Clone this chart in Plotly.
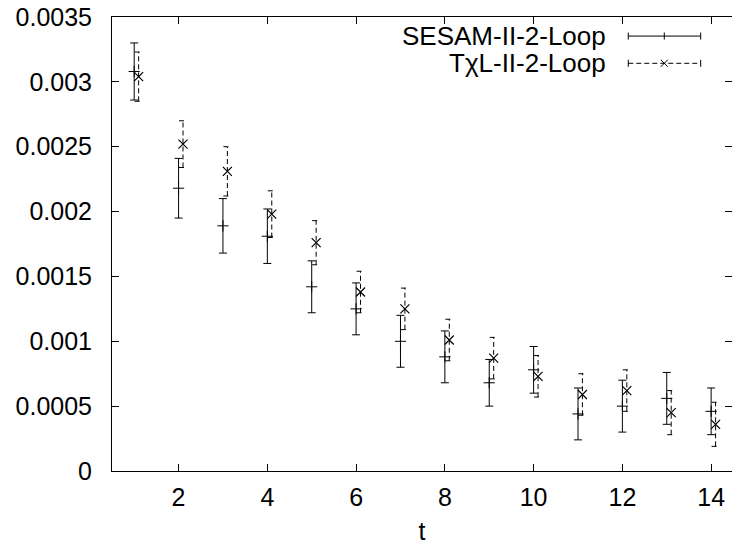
import plotly.graph_objects as go

# Time slices
t = [1, 2, 3, 4, 5, 6, 7, 8, 9, 10, 11, 12, 13, 14]

# SESAM ensemble, 2-loop
sesam_val = [0.00308, 0.00218, 0.00189, 0.00181, 0.00142, 0.00125, 0.00100,
             0.00088, 0.00068, 0.00078, 0.00044, 0.00050, 0.00056, 0.00046]
sesam_err = [0.00022, 0.00023, 0.00021, 0.00021, 0.00020, 0.00020, 0.00020,
             0.00020, 0.00018, 0.00018, 0.00020, 0.00020, 0.00020, 0.00018]

# TchiL ensemble, 2-loop (plotted slightly shifted in t)
tchil_val = [0.00304, 0.00252, 0.00231, 0.00198, 0.00176, 0.00138, 0.00125,
             0.00101, 0.00087, 0.00073, 0.00059, 0.00062, 0.00045, 0.00036]
tchil_err = [0.00019, 0.00018, 0.00019, 0.00018, 0.00017, 0.00016, 0.00016,
             0.00016, 0.00016, 0.00016, 0.00016, 0.00016, 0.00017, 0.00017]
tchil_shift = 0.1

x_ticks = [2, 4, 6, 8, 10, 12, 14]
y_ticks = [0, 0.0005, 0.001, 0.0015, 0.002, 0.0025, 0.003, 0.0035]
y_tick_text = ["0", "0.0005", "0.001", "0.0015", "0.002", "0.0025", "0.003", "0.0035"]

labels = ["SESAM-II-2-Loop", "T\u03c7L-II-2-Loop"]

FONT = "Liberation Sans, Arial, Helvetica, sans-serif"
FS = 25
CAP = 0.09  # half-width of dashed error-bar caps, in t units

fig = go.Figure()

# SESAM: solid error bars with "+" points
fig.add_trace(go.Scatter(
    x=t, y=sesam_val, mode="markers",
    marker=dict(symbol="cross-thin", size=8, line=dict(color="black", width=1)),
    error_y=dict(type="data", array=sesam_err, visible=True,
                 color="black", thickness=1, width=4),
    showlegend=False,
))

# TchiL: dashed error bars drawn as segments, "x" points
bx, by = [], []
for ti, v, e in zip(t, tchil_val, tchil_err):
    xc = ti + tchil_shift
    bx += [xc, xc, None, xc - CAP, xc + CAP, None, xc - CAP, xc + CAP, None]
    by += [v - e, v + e, None, v + e, v + e, None, v - e, v - e, None]
fig.add_trace(go.Scatter(
    x=bx, y=by, mode="lines",
    line=dict(color="black", width=1, dash="5px,3px"),
    hoverinfo="skip", showlegend=False,
))
fig.add_trace(go.Scatter(
    x=[ti + tchil_shift for ti in t], y=tchil_val, mode="markers",
    marker=dict(symbol="x-thin", size=9, line=dict(color="black", width=1.2)),
    showlegend=False,
))

# Key in the upper right: right-aligned text followed by a line sample
key_rows = [0.958, 0.898]
key_text_x = 0.800
key_x0, key_x1, key_xm = 0.8327, 0.9495, 0.8908
cap_h = 3.5 / 454
mark_w = 3.5 / 620
shapes = []
for i, (lab, yr) in enumerate(zip(labels, key_rows)):
    fig.add_annotation(
        x=key_text_x, y=yr, xref="paper", yref="paper", text=lab,
        showarrow=False, xanchor="right", yanchor="middle",
        font=dict(family=FONT, size=26, color="black"),
    )
    dash = "solid" if i == 0 else "5px,3px"
    ln = dict(color="black", width=1, dash=dash)
    shapes.append(dict(type="line", xref="paper", yref="paper",
                       x0=key_x0, x1=key_x1, y0=yr, y1=yr, line=ln))
    for xe in (key_x0, key_x1):
        shapes.append(dict(type="line", xref="paper", yref="paper",
                           x0=xe, x1=xe, y0=yr - cap_h, y1=yr + cap_h,
                           line=dict(color="black", width=1)))
    if i == 0:
        shapes.append(dict(type="line", xref="paper", yref="paper",
                           x0=key_xm, x1=key_xm, y0=yr - cap_h, y1=yr + cap_h,
                           line=dict(color="black", width=1)))
    else:
        for s in (1, -1):
            shapes.append(dict(type="line", xref="paper", yref="paper",
                               x0=key_xm - mark_w, x1=key_xm + mark_w,
                               y0=yr - s * cap_h, y1=yr + s * cap_h,
                               line=dict(color="black", width=1)))

fig.update_layout(
    width=732, height=553,
    margin=dict(l=112, r=0, t=17, b=82),
    paper_bgcolor="white", plot_bgcolor="white",
    font=dict(family=FONT, size=FS, color="black"),
    shapes=shapes,
    xaxis=dict(
        range=[0.5, 14.47], tickvals=x_ticks,
        ticks="inside", ticklen=7, tickwidth=1, tickcolor="black",
        showline=True, linecolor="black", linewidth=1, mirror="ticks",
        showgrid=False, zeroline=False,
        ticklabelstandoff=4,
        title=dict(text="t", standoff=12, font=dict(family=FONT, size=FS)),
    ),
    yaxis=dict(
        range=[0, 0.0035], tickvals=y_ticks, ticktext=y_tick_text,
        ticks="inside", ticklen=7, tickwidth=1, tickcolor="black",
        showline=True, linecolor="black", linewidth=1, mirror="ticks",
        showgrid=False, zeroline=False,
        ticklabelstandoff=14,
    ),
)

fig.write_html("out.html")
